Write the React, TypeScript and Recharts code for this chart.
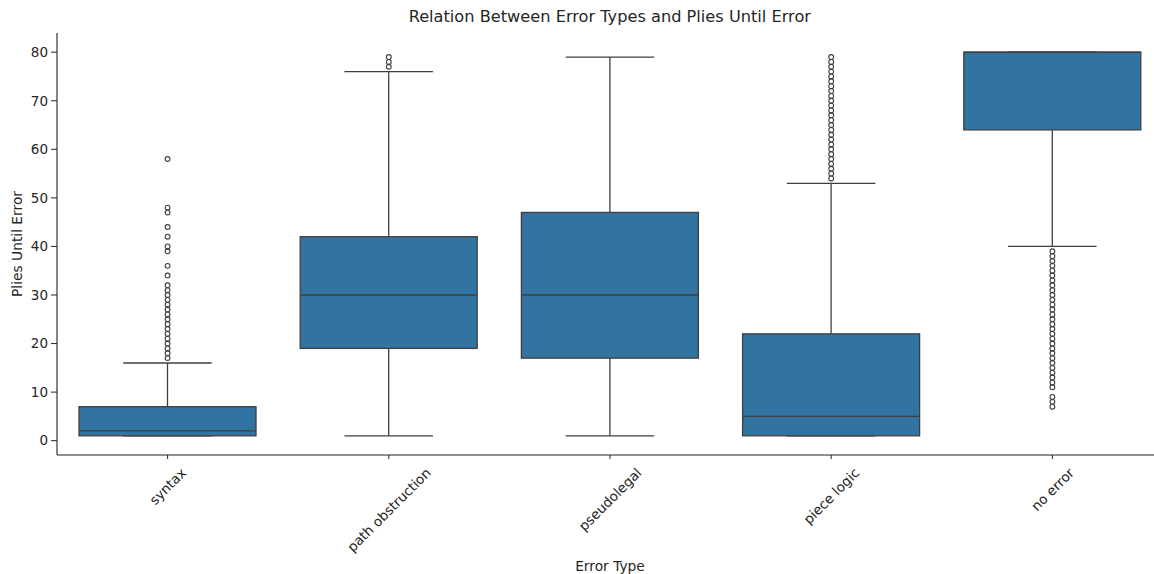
import React from "react";
import {
  ComposedChart,
  Bar,
  Scatter,
  XAxis,
  YAxis,
  Label,
} from "recharts";

const categories = ["syntax", "path obstruction", "pseudolegal", "piece logic", "no error"];
const q1 = [1, 19, 17, 1, 64];
const medians = [2, 30, 30, 5, 80];
const q3 = [7, 42, 47, 22, 80];
const whiskerLow = [1, 1, 1, 1, 40];
const whiskerHigh = [16, 76, 79, 53, 80];

const syntaxOutliers = [17, 18, 19, 20, 21, 22, 23, 24, 25, 26, 27, 28, 29, 30, 31, 32, 34, 36, 39, 40, 42, 44, 47, 48, 58];
const pathOutliers = [77, 78, 79];
const pseudolegalOutliers: number[] = [];
const pieceLogicOutliers = [54, 55, 56, 57, 58, 59, 60, 61, 62, 63, 64, 65, 66, 67, 68, 69, 70, 71, 72, 73, 74, 75, 76, 77, 78, 79];
const noErrorOutliers = [7, 8, 9, 11, 12, 13, 14, 15, 16, 17, 18, 19, 20, 21, 22, 23, 24, 25, 26, 27, 28, 29, 30, 31, 32, 33, 34, 35, 36, 37, 38, 39];

const yTicks = [0, 10, 20, 30, 40, 50, 60, 70, 80];

const FONT = "'DejaVu Sans', sans-serif";
const BOX_FILL = "#3274a1";
const LINE = "#3f3f3f";
const TEXT = "#262626";
const TICK_SIZE = 13.5;
const LABEL_SIZE = 13.8;

const rows = categories.map((name, i) => ({
  name,
  box: [q1[i], q3[i]],
  whisker: [whiskerLow[i], whiskerHigh[i]],
  median: medians[i],
  q1: q1[i],
  q3: q3[i],
}));

const outlierLists = [syntaxOutliers, pathOutliers, pseudolegalOutliers, pieceLogicOutliers, noErrorOutliers];
const outliers = outlierLists.flatMap((vals, i) =>
  vals.map((value) => ({ name: categories[i], value }))
);

let measureCtx: CanvasRenderingContext2D | null = null;
function textWidth(s: string, size: number) {
  if (!measureCtx) measureCtx = document.createElement("canvas").getContext("2d");
  if (!measureCtx) return s.length * size * 0.58;
  measureCtx.font = `${size}px 'DejaVu Sans'`;
  return measureCtx.measureText(s).width;
}

// whisker: vertical stem plus half-width caps at both ends
function WhiskerShape(props: any) {
  const { x, y, width, height } = props;
  const top = Math.min(y, y + height);
  const bottom = Math.max(y, y + height);
  const cx = x + width / 2;
  const capHalf = width / 4;
  return (
    <g stroke={LINE} strokeWidth={1.3}>
      <line x1={cx} x2={cx} y1={top} y2={bottom} />
      <line x1={cx - capHalf} x2={cx + capHalf} y1={top} y2={top} />
      <line x1={cx - capHalf} x2={cx + capHalf} y1={bottom} y2={bottom} />
    </g>
  );
}

// IQR box with the median line placed between the q1/q3 pixel edges
function BoxShape(props: any) {
  const { x, y, width, height, payload } = props;
  const top = Math.min(y, y + height);
  const h = Math.abs(height);
  const span = payload.q3 - payload.q1;
  const my = span === 0 ? top : top + h * ((payload.q3 - payload.median) / span);
  return (
    <g>
      <rect x={x} y={top} width={width} height={h} fill={BOX_FILL} stroke={LINE} strokeWidth={1.3} />
      <line x1={x} x2={x + width} y1={my} y2={my} stroke={LINE} strokeWidth={1.3} />
    </g>
  );
}

function FlierShape(props: any) {
  const { cx, cy } = props;
  return <circle cx={cx} cy={cy} r={2.4} fill="none" stroke={LINE} strokeWidth={1.1} />;
}

function RotatedTick(props: any) {
  const { x, y, payload } = props;
  const w = textWidth(String(payload.value), TICK_SIZE);
  const half = ((w + TICK_SIZE * 1.1) * Math.SQRT1_2) / 2;
  const cy = y + 4 + half;
  return (
    <text
      x={x}
      y={cy}
      textAnchor="middle"
      dominantBaseline="central"
      transform={`rotate(-45 ${x} ${cy})`}
      fontSize={TICK_SIZE}
      fontFamily={FONT}
      fill={TEXT}
    >
      {payload.value}
    </text>
  );
}

function YTitle(props: any) {
  const { viewBox } = props;
  const x = viewBox.x + 16.5;
  const y = viewBox.y + viewBox.height / 2;
  return (
    <text
      x={x}
      y={y}
      textAnchor="middle"
      dominantBaseline="central"
      transform={`rotate(-90 ${x} ${y})`}
      fontSize={LABEL_SIZE}
      fontFamily={FONT}
      fill={TEXT}
    >
      Plies Until Error
    </text>
  );
}

export default function App() {
  return (
    <div
      style={{
        position: "fixed",
        left: 0,
        top: 0,
        width: 1154,
        height: 574,
        overflow: "hidden",
        background: "#fff",
      }}
    >
      <div
        style={{
          position: "absolute",
          left: 0,
          width: 1219.6,
          top: 7,
          textAlign: "center",
          fontFamily: FONT,
          fontSize: 16.2,
          color: TEXT,
          whiteSpace: "nowrap",
        }}
      >
        Relation Between Error Types and Plies Until Error
      </div>
      <ComposedChart
        width={1170}
        height={574}
        data={rows}
        margin={{ top: 33, right: 7, bottom: 0, left: 0 }}
        barGap={-177}
        style={{ position: "absolute", left: 0, top: 0 }}
      >
        <XAxis
          dataKey="name"
          type="category"
          allowDuplicatedCategory={false}
          height={119}
          interval={0}
          tickSize={4}
          tickLine={{ stroke: "#222" }}
          axisLine={{ stroke: "#222", strokeWidth: 1.1 }}
          tick={<RotatedTick />}
        >
          <Label
            value="Error Type"
            position="insideBottom"
            offset={3}
            style={{ fontSize: LABEL_SIZE, fontFamily: FONT, fill: TEXT }}
          />
        </XAxis>
        <XAxis
          xAxisId="top"
          orientation="top"
          dataKey="name"
          height={0}
          tick={false}
          tickLine={false}
          axisLine={{ stroke: "#444", strokeWidth: 1.4 }}
        />
        <YAxis
          type="number"
          domain={[-2.95, 83.95]}
          ticks={yTicks}
          allowDataOverflow
          width={57}
          tickSize={6}
          tickMargin={3}
          tickLine={{ stroke: "#222" }}
          axisLine={{ stroke: "#222", strokeWidth: 1.1 }}
          tick={{ fontSize: TICK_SIZE, fontFamily: FONT, fill: TEXT }}
        >
          <Label content={<YTitle />} />
        </YAxis>
        <Bar
          dataKey="whisker"
          barSize={177}
          shape={<WhiskerShape />}
          isAnimationActive={false}
        />
        <Bar
          dataKey="box"
          barSize={177}
          shape={<BoxShape />}
          isAnimationActive={false}
        />
        <Scatter
          data={outliers}
          dataKey="value"
          shape={<FlierShape />}
          isAnimationActive={false}
        />
      </ComposedChart>
    </div>
  );
}
